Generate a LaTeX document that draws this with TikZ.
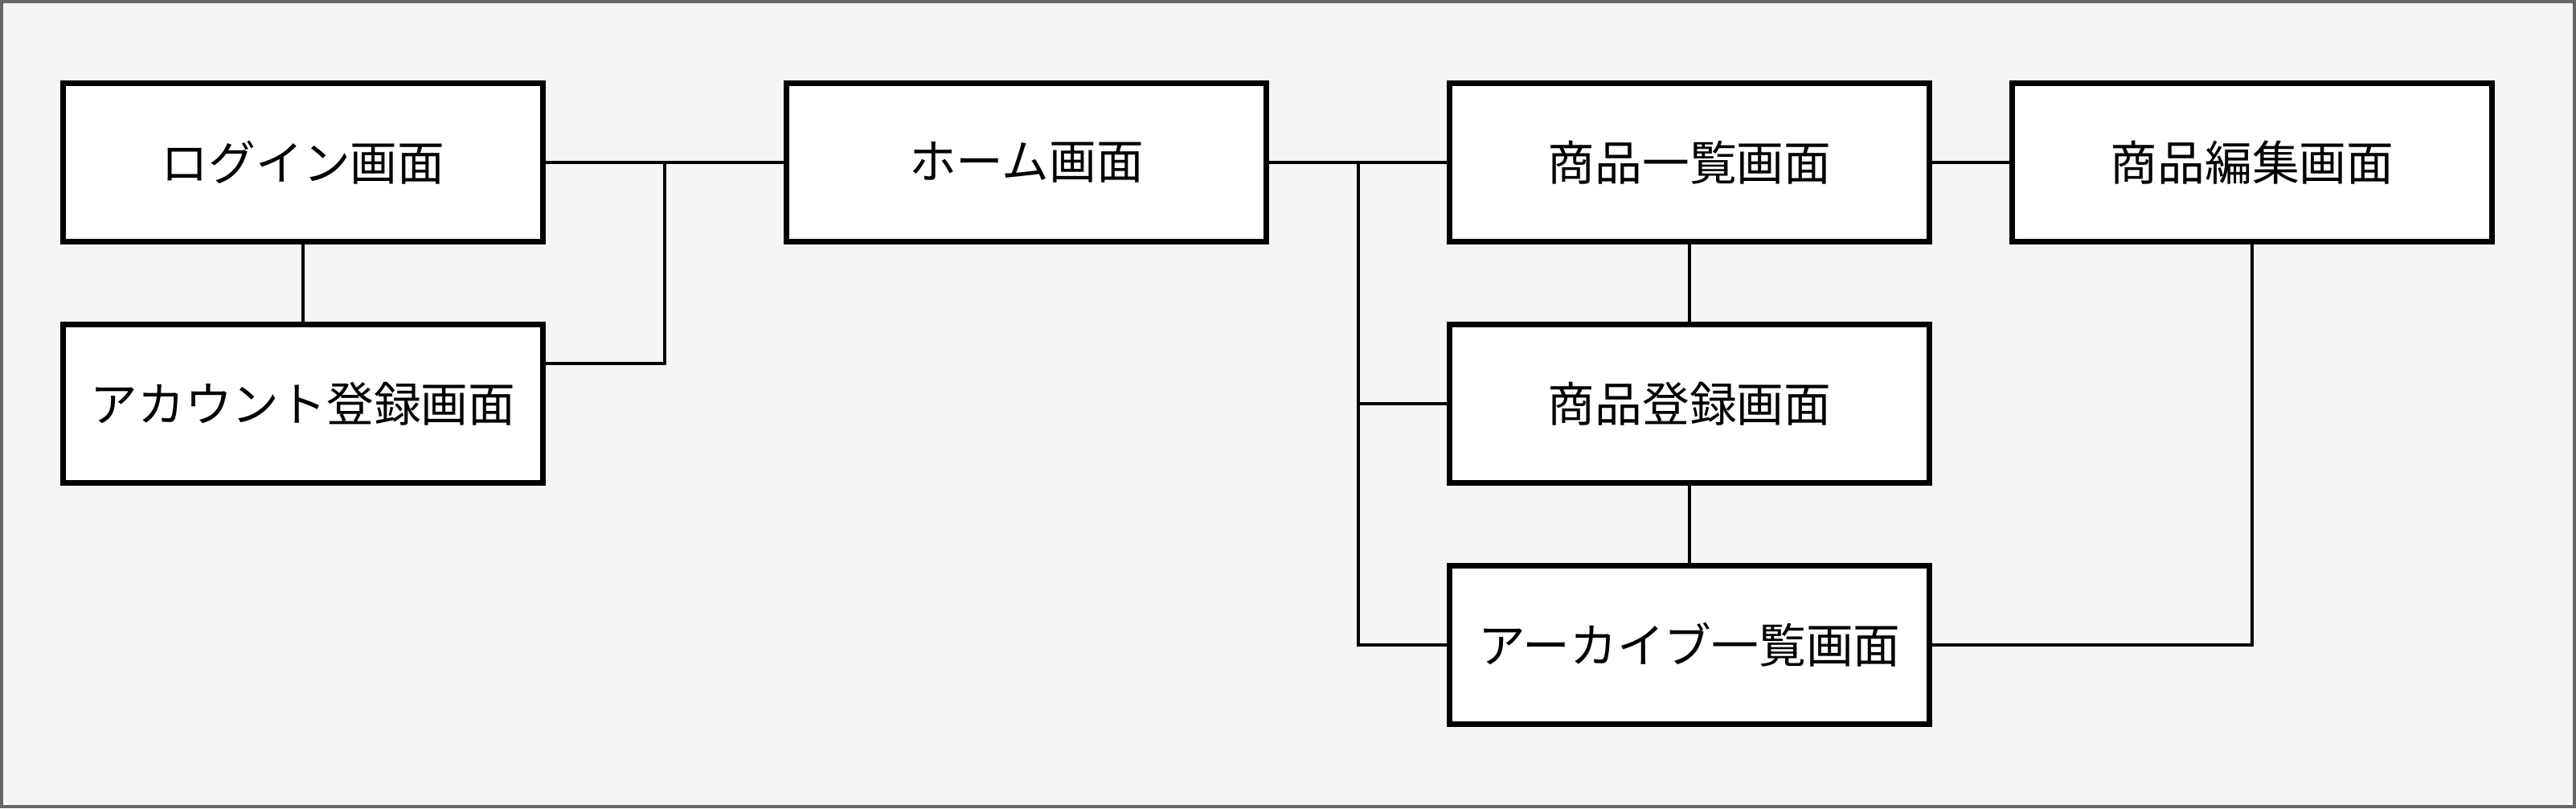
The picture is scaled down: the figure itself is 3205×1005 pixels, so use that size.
\documentclass[tikz,border=0pt]{standalone}
\usepackage{fontspec}
\setmainfont{Noto Sans CJK JP}
\definecolor{pagefill}{HTML}{F5F5F5}
\definecolor{pageline}{HTML}{666666}
\tikzset{
  screen/.style={draw=black, line width=2pt, fill=white, minimum width=5.97cm,
    minimum height=1.97cm, inner sep=0pt,
    font=\fontsize{16.7pt}{20pt}\selectfont},
  link/.style={draw=black, line width=1.3pt}
}
\begin{document}
\begin{tikzpicture}[x=0.01cm, y=-0.01cm]
        \useasboundingbox (0,0) rectangle (3205,1005);
        \filldraw[fill=pagefill, draw=pageline, line width=1.2pt] (2,2) rectangle (3203,1003);
        \foreach \nm/\x/\y/\txt in {login/377/202/ログイン画面, account/377/502/アカウント登録画面,
          home/1277/202/ホーム画面, list/2102/202/商品一覧画面, edit/2802/202/商品編集画面,
          regist/2102/502/商品登録画面, archive/2102/802/アーカイブ一覧画面}
        \node[screen] (\nm) at (\x,\y) {\txt};
        \coordinate (jleft) at (827,202);
        \coordinate (jright) at (1690,202);
        \draw[link] (login.east) -- (home.west);
        \draw[link] (login.south) -- (account.north);
        \draw[link] ([yshift=0.5cm]account.east) -| (jleft);
        \draw[link] (home.east) -- (list.west);
        \draw[link] (archive.west) -| (jright);
        \draw[link] (regist.west) -- (regist.west -| jright);
        \draw[link] (list.south) -- (regist.north);
        \draw[link] (regist.south) -- (archive.north);
        \draw[link] (list.east) -- (edit.west);
        \draw[link] (archive.east) -| (edit.south);
    \end{tikzpicture}
\end{document}
